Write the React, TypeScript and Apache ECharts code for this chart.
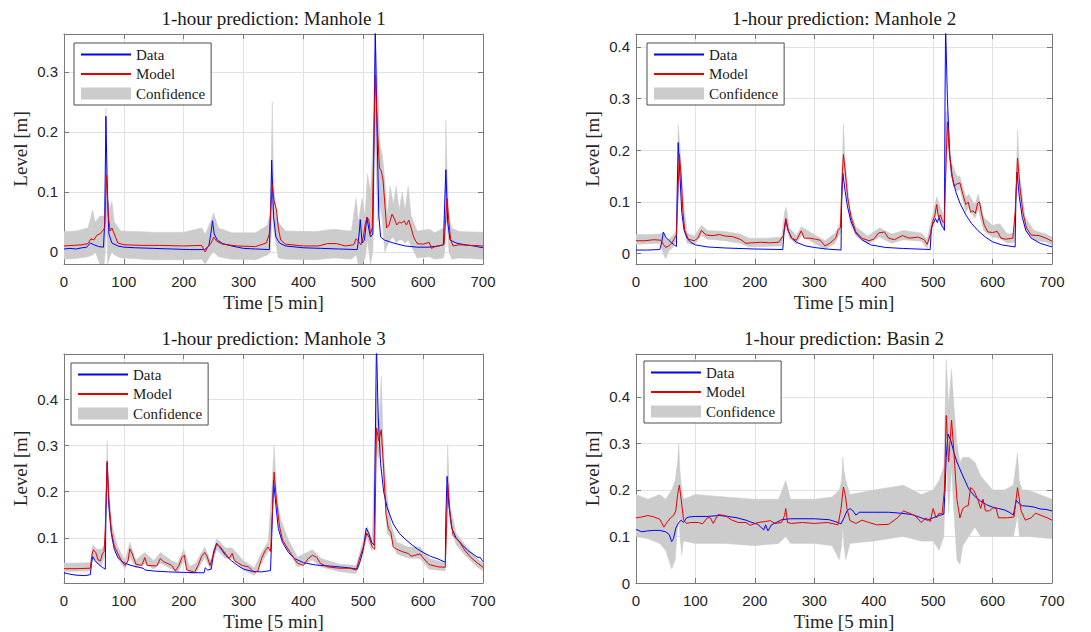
import React, { useEffect, useRef } from "react";
import * as echarts from "echarts";

// ---------- data ----------
const TITLES = [
  "1-hour prediction: Manhole 1",
  "1-hour prediction: Manhole 2",
  "1-hour prediction: Manhole 3",
  "1-hour prediction: Basin 2",
];
const X_LABEL = "Time [5 min]";
const Y_LABEL = "Level [m]";
const LEGEND_NAMES = ["Data", "Model", "Confidence"];

// Manhole 1
const m1Data = [[0,0.005],[10,0.006],[20,0.005],[30,0.007],[38,0.008],[44,0.015],[50,0.012],[58,0.009],[66,0.008],[68,0.05],[70,0.226],[72,0.12],[75,0.03],[80,0.015],[90,0.01],[100,0.008],[120,0.007],[150,0.006],[180,0.005],[210,0.004],[235,0.004],[242,0.01],[246,0.035],[248,0.052],[251,0.03],[256,0.02],[265,0.014],[280,0.01],[300,0.006],[320,0.005],[343,0.004],[345,0.06],[347,0.153],[350,0.06],[354,0.025],[360,0.015],[370,0.01],[400,0.007],[430,0.006],[460,0.005],[490,0.004],[493,0.03],[495,0.054],[498,0.015],[502,0.02],[506,0.058],[509,0.04],[512,0.025],[516,0.03],[518,0.2],[520,0.37],[523,0.2],[526,0.06],[529,0.025],[535,0.02],[550,0.015],[570,0.01],[590,0.008],[610,0.008],[625,0.01],[634,0.012],[636,0.08],[638,0.137],[641,0.05],[645,0.02],[655,0.015],[670,0.012],[685,0.01],[700,0.007]];
const m1Model = [[0,0.01],[15,0.011],[30,0.012],[40,0.014],[45,0.022],[50,0.02],[55,0.028],[60,0.03],[65,0.036],[68,0.04],[71,0.128],[74,0.06],[77,0.035],[80,0.04],[84,0.03],[90,0.015],[100,0.012],[130,0.011],[160,0.011],[200,0.01],[230,0.011],[234,0.003],[236,0.0],[240,0.008],[246,0.015],[250,0.025],[255,0.018],[265,0.013],[290,0.01],[320,0.009],[338,0.015],[343,0.03],[346,0.08],[348,0.112],[351,0.085],[355,0.07],[358,0.04],[362,0.02],[370,0.013],[400,0.01],[425,0.01],[440,0.014],[455,0.014],[470,0.01],[484,0.012],[488,0.022],[492,0.018],[496,0.012],[500,0.025],[503,0.045],[506,0.057],[509,0.055],[512,0.03],[515,0.04],[517,0.15],[520,0.295],[523,0.22],[527,0.14],[530,0.135],[533,0.12],[536,0.08],[539,0.04],[543,0.045],[548,0.063],[552,0.055],[556,0.045],[560,0.05],[564,0.048],[568,0.052],[572,0.045],[576,0.053],[580,0.04],[584,0.025],[590,0.014],[600,0.013],[610,0.016],[614,0.006],[620,0.009],[630,0.011],[635,0.013],[638,0.06],[640,0.089],[643,0.05],[646,0.02],[650,0.01],[660,0.012],[680,0.011],[700,0.01]];
const m1Band = [[0,-0.012,0.034],[20,-0.011,0.035],[40,-0.008,0.04],[48,-0.005,0.07],[52,0.0,0.05],[60,-0.02,0.06],[67,-0.02,0.06],[69,0.0,0.12],[70,0.05,0.24],[71,0.05,0.18],[73,-0.02,0.09],[76,-0.01,0.07],[80,0.0,0.085],[84,-0.005,0.05],[95,-0.01,0.035],[150,-0.013,0.033],[200,-0.013,0.033],[230,-0.012,0.04],[236,-0.02,0.03],[245,-0.005,0.05],[250,0.0,0.065],[258,-0.008,0.04],[280,-0.012,0.032],[320,-0.013,0.032],[340,-0.005,0.045],[345,0.0,0.07],[347,0.05,0.2],[348,0.08,0.25],[350,0.04,0.12],[353,0.02,0.08],[358,-0.01,0.05],[370,-0.012,0.035],[420,-0.013,0.034],[450,-0.01,0.038],[480,-0.012,0.035],[488,-0.005,0.09],[492,-0.02,0.05],[498,-0.02,0.09],[503,-0.01,0.06],[507,0.02,0.13],[512,-0.02,0.1],[516,0.0,0.18],[520,0.2,0.37],[524,0.05,0.28],[528,0.08,0.18],[532,0.05,0.16],[536,0.0,0.12],[540,0.01,0.06],[545,0.02,0.11],[550,0.025,0.08],[555,0.015,0.11],[560,0.02,0.07],[565,0.02,0.1],[570,0.015,0.07],[575,0.02,0.11],[580,0.01,0.06],[590,-0.01,0.035],[610,-0.008,0.038],[620,-0.012,0.032],[634,-0.01,0.04],[636,0.0,0.08],[638,0.05,0.22],[640,0.05,0.13],[643,0.0,0.06],[648,-0.012,0.04],[660,-0.01,0.034],[700,-0.012,0.033]];

// Manhole 2
const m2Data = [[0,0.007],[20,0.007],[40,0.008],[43,0.02],[46,0.042],[50,0.032],[55,0.026],[60,0.021],[65,0.016],[68,0.014],[69,0.1],[71,0.215],[74,0.15],[77,0.08],[81,0.045],[86,0.03],[92,0.022],[100,0.017],[120,0.013],[150,0.011],[200,0.009],[247,0.008],[249,0.04],[252,0.066],[256,0.045],[262,0.03],[270,0.022],[285,0.015],[300,0.012],[320,0.009],[345,0.007],[346,0.1],[348,0.156],[352,0.12],[356,0.09],[362,0.062],[370,0.04],[380,0.027],[395,0.017],[420,0.012],[450,0.01],[495,0.008],[497,0.05],[500,0.058],[504,0.068],[507,0.06],[510,0.07],[514,0.055],[518,0.048],[519,0.045],[520,0.3],[521,0.44],[524,0.3],[528,0.19],[532,0.15],[538,0.12],[545,0.098],[555,0.075],[565,0.058],[575,0.045],[588,0.032],[600,0.023],[615,0.017],[638,0.013],[639,0.1],[641,0.158],[645,0.11],[650,0.07],[656,0.045],[665,0.03],[680,0.02],[700,0.013]];
const m2Model = [[0,0.025],[15,0.025],[30,0.027],[42,0.026],[46,0.018],[50,0.012],[55,0.015],[60,0.02],[65,0.03],[68,0.036],[70,0.1],[73,0.193],[76,0.15],[79,0.08],[82,0.045],[88,0.028],[98,0.025],[104,0.03],[110,0.045],[118,0.036],[130,0.035],[140,0.037],[150,0.034],[162,0.033],[175,0.028],[185,0.02],[195,0.021],[210,0.022],[225,0.021],[240,0.022],[248,0.035],[252,0.068],[256,0.045],[262,0.03],[270,0.026],[278,0.044],[283,0.03],[292,0.03],[302,0.028],[310,0.026],[318,0.015],[326,0.02],[336,0.03],[340,0.045],[344,0.05],[347,0.15],[349,0.192],[352,0.16],[356,0.11],[362,0.07],[370,0.042],[380,0.03],[392,0.025],[400,0.028],[408,0.04],[418,0.042],[425,0.03],[435,0.027],[448,0.035],[460,0.03],[475,0.032],[485,0.027],[490,0.018],[496,0.04],[500,0.065],[503,0.075],[506,0.095],[509,0.07],[512,0.075],[516,0.062],[519,0.06],[521,0.15],[524,0.255],[527,0.2],[531,0.155],[535,0.13],[540,0.135],[545,0.137],[550,0.115],[555,0.095],[559,0.1],[563,0.08],[567,0.083],[571,0.078],[575,0.098],[578,0.1],[582,0.075],[586,0.055],[592,0.042],[600,0.041],[608,0.043],[614,0.03],[622,0.028],[634,0.03],[638,0.08],[642,0.185],[646,0.13],[651,0.08],[657,0.05],[665,0.036],[678,0.035],[690,0.03],[700,0.024]];
const m2Band = [[0,0.018,0.037],[20,0.019,0.037],[40,0.02,0.038],[46,0.0,0.04],[50,-0.01,0.03],[55,0.005,0.028],[62,0.012,0.035],[68,0.025,0.045],[71,0.1,0.25],[73,0.16,0.22],[76,0.12,0.17],[80,0.05,0.1],[86,0.02,0.04],[98,0.017,0.034],[110,0.035,0.055],[120,0.028,0.045],[150,0.025,0.043],[175,0.02,0.038],[190,0.013,0.03],[220,0.014,0.03],[245,0.015,0.032],[250,0.045,0.08],[253,0.05,0.09],[258,0.03,0.05],[270,0.018,0.035],[278,0.035,0.052],[300,0.02,0.037],[318,0.008,0.025],[335,0.02,0.04],[344,0.04,0.06],[347,0.1,0.16],[349,0.17,0.25],[352,0.14,0.18],[360,0.06,0.085],[370,0.034,0.052],[390,0.018,0.034],[410,0.032,0.05],[430,0.02,0.038],[450,0.027,0.045],[480,0.024,0.04],[490,0.01,0.028],[498,0.045,0.07],[506,0.08,0.11],[512,0.06,0.09],[518,0.05,0.075],[521,0.12,0.27],[524,0.23,0.28],[530,0.15,0.18],[540,0.12,0.15],[545,0.125,0.15],[555,0.08,0.11],[560,0.09,0.115],[570,0.068,0.095],[576,0.085,0.115],[585,0.045,0.07],[600,0.032,0.055],[612,0.03,0.058],[625,0.02,0.038],[636,0.022,0.04],[639,0.05,0.1],[642,0.16,0.24],[646,0.11,0.15],[655,0.045,0.07],[670,0.026,0.045],[690,0.022,0.038],[700,0.016,0.032]];

// Manhole 3
const m3Data = [[0,0.024],[10,0.021],[20,0.019],[35,0.018],[44,0.02],[46,0.045],[48,0.059],[52,0.05],[58,0.042],[64,0.036],[69,0.032],[70,0.15],[72,0.262],[75,0.17],[79,0.11],[84,0.075],[90,0.057],[100,0.046],[112,0.04],[125,0.036],[132,0.034],[136,0.03],[150,0.028],[175,0.026],[200,0.025],[234,0.024],[236,0.035],[240,0.03],[246,0.032],[250,0.07],[255,0.088],[260,0.08],[270,0.062],[280,0.05],[290,0.04],[300,0.032],[315,0.027],[330,0.026],[345,0.029],[347,0.1],[350,0.225],[354,0.17],[358,0.12],[365,0.09],[375,0.068],[385,0.055],[400,0.046],[420,0.041],[450,0.038],[475,0.035],[490,0.032],[495,0.05],[500,0.075],[505,0.121],[509,0.11],[514,0.09],[518,0.084],[520,0.3],[522,0.52],[525,0.36],[529,0.26],[534,0.2],[540,0.165],[550,0.13],[560,0.11],[570,0.097],[580,0.086],[590,0.076],[600,0.068],[612,0.06],[625,0.054],[637,0.047],[638,0.15],[640,0.233],[643,0.17],[648,0.12],[655,0.1],[665,0.085],[675,0.072],[685,0.063],[692,0.057],[695,0.058],[700,0.048]];
const m3Model = [[0,0.033],[20,0.033],[44,0.034],[47,0.065],[49,0.074],[53,0.068],[57,0.052],[61,0.05],[64,0.065],[67,0.07],[69,0.12],[72,0.266],[75,0.18],[79,0.115],[84,0.082],[90,0.066],[96,0.05],[102,0.04],[107,0.05],[110,0.076],[114,0.065],[120,0.043],[130,0.04],[135,0.057],[139,0.04],[155,0.039],[161,0.055],[166,0.048],[172,0.045],[180,0.04],[186,0.028],[192,0.04],[197,0.057],[201,0.062],[205,0.03],[212,0.028],[218,0.025],[224,0.04],[230,0.06],[235,0.068],[239,0.06],[244,0.04],[249,0.06],[255,0.086],[260,0.082],[270,0.065],[276,0.055],[281,0.066],[285,0.05],[291,0.045],[298,0.04],[308,0.037],[318,0.025],[324,0.028],[330,0.055],[336,0.072],[341,0.08],[345,0.07],[348,0.15],[351,0.242],[355,0.18],[360,0.125],[365,0.095],[372,0.08],[380,0.064],[390,0.045],[400,0.04],[408,0.055],[415,0.062],[422,0.058],[428,0.045],[440,0.037],[460,0.034],[478,0.034],[488,0.03],[495,0.06],[500,0.08],[506,0.11],[510,0.1],[515,0.08],[519,0.075],[522,0.338],[526,0.31],[530,0.334],[534,0.25],[538,0.15],[542,0.12],[546,0.112],[550,0.08],[556,0.075],[565,0.07],[575,0.066],[580,0.06],[586,0.062],[595,0.065],[600,0.056],[610,0.042],[625,0.037],[637,0.036],[639,0.12],[641,0.22],[645,0.15],[650,0.105],[660,0.092],[670,0.072],[680,0.057],[690,0.046],[700,0.036]];
const m3Band = [[0,0.027,0.045],[44,0.028,0.046],[48,0.06,0.085],[55,0.045,0.075],[62,0.04,0.075],[68,0.06,0.085],[70,0.12,0.2],[72,0.22,0.31],[75,0.15,0.2],[80,0.095,0.13],[90,0.055,0.08],[102,0.032,0.05],[110,0.06,0.09],[120,0.034,0.052],[135,0.045,0.068],[150,0.032,0.05],[161,0.045,0.068],[180,0.032,0.05],[190,0.025,0.045],[200,0.05,0.075],[210,0.022,0.038],[220,0.022,0.045],[235,0.058,0.08],[245,0.03,0.05],[255,0.075,0.098],[270,0.055,0.078],[281,0.055,0.078],[300,0.03,0.05],[318,0.018,0.035],[330,0.045,0.068],[341,0.07,0.092],[347,0.12,0.2],[351,0.22,0.3],[355,0.16,0.2],[362,0.1,0.14],[375,0.07,0.095],[390,0.036,0.058],[415,0.052,0.074],[430,0.036,0.055],[460,0.027,0.043],[488,0.022,0.04],[500,0.068,0.095],[506,0.1,0.125],[515,0.07,0.095],[522,0.3,0.43],[526,0.27,0.33],[530,0.3,0.45],[534,0.22,0.28],[540,0.11,0.19],[546,0.1,0.13],[556,0.065,0.09],[575,0.056,0.08],[595,0.055,0.08],[610,0.032,0.055],[637,0.028,0.046],[639,0.1,0.16],[641,0.19,0.3],[645,0.13,0.17],[655,0.085,0.11],[670,0.062,0.085],[690,0.037,0.055],[700,0.028,0.045]];

// Basin 2
const b2Data = [[0,0.115],[10,0.11],[20,0.112],[30,0.113],[40,0.113],[50,0.11],[56,0.104],[60,0.089],[63,0.095],[67,0.118],[72,0.13],[76,0.135],[80,0.13],[85,0.14],[90,0.142],[100,0.143],[120,0.143],[140,0.145],[155,0.143],[170,0.14],[185,0.135],[195,0.13],[205,0.126],[210,0.12],[215,0.114],[218,0.125],[222,0.112],[228,0.125],[236,0.13],[245,0.136],[260,0.138],[300,0.138],[325,0.136],[340,0.13],[345,0.127],[350,0.14],[355,0.155],[360,0.16],[365,0.155],[370,0.146],[376,0.152],[400,0.152],[425,0.152],[445,0.15],[465,0.147],[480,0.14],[490,0.135],[500,0.14],[510,0.145],[518,0.148],[520,0.2],[522,0.27],[525,0.32],[530,0.305],[535,0.28],[540,0.26],[550,0.23],[560,0.202],[570,0.186],[580,0.176],[590,0.168],[600,0.163],[610,0.16],[620,0.157],[628,0.152],[635,0.146],[638,0.165],[640,0.178],[645,0.17],[650,0.166],[660,0.165],[670,0.163],[680,0.159],[690,0.158],[700,0.155]];
const b2Model = [[0,0.14],[10,0.142],[20,0.145],[30,0.142],[40,0.137],[47,0.12],[52,0.13],[58,0.14],[63,0.145],[67,0.155],[70,0.19],[73,0.21],[76,0.18],[80,0.136],[85,0.128],[92,0.13],[105,0.13],[112,0.127],[120,0.14],[125,0.14],[130,0.128],[138,0.147],[150,0.145],[160,0.136],[172,0.13],[185,0.13],[192,0.124],[205,0.13],[218,0.132],[226,0.134],[234,0.128],[245,0.13],[250,0.145],[252,0.16],[255,0.13],[262,0.128],[280,0.13],[300,0.128],[322,0.13],[340,0.125],[345,0.16],[349,0.206],[352,0.19],[355,0.16],[360,0.134],[370,0.128],[380,0.135],[392,0.13],[405,0.125],[425,0.126],[440,0.14],[450,0.155],[460,0.15],[470,0.144],[480,0.13],[488,0.14],[495,0.132],[500,0.16],[505,0.14],[510,0.15],[515,0.148],[519,0.2],[522,0.36],[526,0.26],[531,0.35],[535,0.28],[540,0.18],[545,0.14],[550,0.16],[555,0.165],[559,0.166],[563,0.205],[568,0.2],[575,0.18],[580,0.16],[584,0.18],[588,0.155],[595,0.155],[601,0.162],[606,0.16],[610,0.14],[625,0.14],[636,0.142],[642,0.205],[648,0.155],[655,0.135],[665,0.14],[672,0.15],[682,0.145],[692,0.14],[700,0.135]];
const b2Band = [[0,0.1,0.19],[20,0.095,0.18],[40,0.085,0.19],[50,0.07,0.18],[60,0.03,0.2],[66,0.05,0.22],[70,0.12,0.26],[72,0.15,0.3],[74,0.1,0.24],[77,0.06,0.2],[80,0.09,0.18],[100,0.085,0.19],[150,0.085,0.185],[200,0.08,0.18],[240,0.085,0.18],[252,0.1,0.22],[260,0.085,0.18],[300,0.085,0.18],[330,0.08,0.185],[342,0.05,0.2],[346,0.08,0.22],[348,0.12,0.27],[350,0.08,0.24],[353,0.05,0.22],[360,0.085,0.19],[400,0.09,0.2],[450,0.1,0.21],[480,0.09,0.19],[500,0.09,0.2],[510,0.07,0.22],[518,0.1,0.25],[522,0.28,0.48],[526,0.15,0.38],[531,0.25,0.46],[535,0.15,0.38],[540,0.05,0.3],[545,0.04,0.26],[550,0.08,0.27],[560,0.1,0.27],[570,0.12,0.26],[580,0.1,0.23],[600,0.1,0.2],[620,0.1,0.2],[635,0.1,0.21],[640,0.13,0.26],[642,0.15,0.28],[645,0.1,0.22],[650,0.1,0.2],[660,0.1,0.2],[700,0.095,0.18]];

const X_RANGE = [0, 700];
const Y_RANGES = [
  [-0.02, 0.363],
  [-0.02, 0.425],
  [0.002, 0.498],
  [0, 0.492],
];
const SERIES_SETS = [
  { data: m1Data, model: m1Model, band: m1Band },
  { data: m2Data, model: m2Model, band: m2Band },
  { data: m3Data, model: m3Model, band: m3Band },
  { data: b2Data, model: b2Model, band: b2Band },
];

// ---------- layout & style ----------
const LAYOUT = [
  { left: 64, top: 34, width: 419, height: 230, legendLeft: 74, legendTop: 43 },
  { left: 636, top: 34, width: 416, height: 230, legendLeft: 647, legendTop: 43 },
  { left: 64, top: 354, width: 419, height: 229, legendLeft: 71, legendTop: 363 },
  { left: 636, top: 354, width: 416, height: 229, legendLeft: 644, legendTop: 361 },
];
const SERIF = "'Liberation Serif', 'Times New Roman', serif";
const SANS = "'Liberation Sans', Arial, sans-serif";
const AX = "#7a7a7a";
const GRIDC = "#e2e2e2";
const TXT = "#262626";
const BLUE = "#0000ff";
const RED = "#e60000";
const BAND = "#cccccc";

function yFmt(v: number) {
  const r = Math.round(v * 10) / 10;
  if (Math.abs(v - r) > 1e-6) return "";
  return Math.abs(r) < 1e-9 ? "0" : String(r);
}

function makeBandRenderer(band: number[][]) {
  return (params: any, api: any) => {
    if (params.dataIndex !== 0) return null;
    const upper = band.map((b) => api.coord([b[0], b[2]]));
    const lower = band.slice().reverse().map((b) => api.coord([b[0], b[1]]));
    const cs = params.coordSys;
    return {
      type: "polygon",
      shape: { points: upper.concat(lower) },
      style: { fill: BAND, stroke: BAND, lineWidth: 0.5 },
      clipPath: { type: "rect", shape: { x: cs.x, y: cs.y, width: cs.width, height: cs.height } },
    };
  };
}

function buildOption() {
  const grid: any[] = [];
  const xAxis: any[] = [];
  const yAxis: any[] = [];
  const title: any[] = [];
  const legend: any[] = [];
  const series: any[] = [];

  LAYOUT.forEach((L, i) => {
    grid.push({ left: L.left, top: L.top, width: L.width, height: L.height, containLabel: false, outerBoundsMode: "none" });
    const [ymin, ymax] = Y_RANGES[i];
    const common = {
      type: "value",
      gridIndex: i,
      axisLine: { show: true, onZero: false, lineStyle: { color: AX, width: 1 } },
      axisTick: { show: true, inside: true, length: 5, lineStyle: { color: AX, width: 1 } },
    };
    xAxis.push({
      ...common,
      min: X_RANGE[0], max: X_RANGE[1], interval: 100, position: "bottom",
      name: X_LABEL, nameLocation: "middle", nameGap: 29,
      nameTextStyle: { fontFamily: SERIF, fontSize: 19, color: TXT },
      axisLabel: { fontFamily: SANS, fontSize: 15, color: TXT, margin: 10 },
      splitLine: { show: true, lineStyle: { color: GRIDC, width: 1 } },
    });
    xAxis.push({
      ...common,
      min: X_RANGE[0], max: X_RANGE[1], interval: 100, position: "top",
      axisLabel: { show: false }, splitLine: { show: false },
    });
    const yCommon: any = { ...common, min: ymin, max: ymax };
    if (ymin === 0) yCommon.interval = 0.1; else yCommon.splitNumber = ymin < 0 ? 4 : 5;
    yAxis.push({
      ...yCommon, position: "left",
      name: Y_LABEL, nameLocation: "middle", nameRotate: 90, nameGap: 34,
      nameTextStyle: { fontFamily: SERIF, fontSize: 19, color: TXT },
      axisLabel: { fontFamily: SANS, fontSize: 15, color: TXT, margin: 6, formatter: yFmt },
      splitLine: { show: true, lineStyle: { color: GRIDC, width: 1 } },
    });
    yAxis.push({
      ...yCommon, position: "right",
      axisLabel: { show: false }, splitLine: { show: false },
    });

    title.push({
      text: TITLES[i],
      left: L.left + L.width / 2,
      top: L.top - 25,
      textAlign: "center",
      padding: 0,
      textStyle: { fontFamily: SERIF, fontSize: 19, fontWeight: "normal", color: "#1a1a1a" },
    });

    const hidden = { color: "rgba(0,0,0,0)", opacity: 0, borderWidth: 0 };
    legend.push({
      orient: "vertical",
      left: L.legendLeft,
      top: L.legendTop,
      itemWidth: 50,
      itemHeight: 12,
      itemGap: 4.5,
      padding: [4, 6, 4, 6],
      borderColor: "#4d4d4d",
      borderWidth: 1,
      borderRadius: 0,
      backgroundColor: "#ffffff",
      selectedMode: false,
      textStyle: { fontFamily: SERIF, fontSize: 15, color: "#1a1a1a" },
      data: [
        { name: LEGEND_NAMES[0], itemStyle: hidden },
        { name: LEGEND_NAMES[1], itemStyle: hidden },
        { name: LEGEND_NAMES[2], icon: "rect", itemStyle: { color: BAND, borderWidth: 0 } },
      ],
    });

    const S = SERIES_SETS[i];
    const axisRef = { xAxisIndex: 2 * i, yAxisIndex: 2 * i };
    series.push({
      type: "custom", name: LEGEND_NAMES[2], ...axisRef,
      data: S.band,
      encode: { x: 0, y: [1, 2] },
      renderItem: makeBandRenderer(S.band),
      itemStyle: { color: BAND },
      silent: true, z: 1,
    });
    series.push({
      type: "line", name: LEGEND_NAMES[0], ...axisRef,
      data: S.data, symbol: "none", silent: true,
      lineStyle: { color: BLUE, width: 1 }, itemStyle: { color: BLUE }, z: 2,
    });
    series.push({
      type: "line", name: LEGEND_NAMES[1], ...axisRef,
      data: S.model, symbol: "none", silent: true,
      lineStyle: { color: RED, width: 1 }, itemStyle: { color: RED }, z: 3,
    });
  });

  return {
    animation: false,
    backgroundColor: "#ffffff",
    textStyle: { fontFamily: SANS },
    title, legend, grid, xAxis, yAxis, series,
  };
}

export default function App() {
  const ref = useRef<HTMLDivElement>(null);
  useEffect(() => {
    if (!ref.current) return;
    const chart = echarts.init(ref.current, undefined, { renderer: "svg" });
    chart.setOption(buildOption() as any);
    return () => chart.dispose();
  }, []);
  return (
    <div
      ref={ref}
      style={{ position: "absolute", left: 0, top: 0, width: 1091, height: 632, background: "#fff" }}
    />
  );
}
